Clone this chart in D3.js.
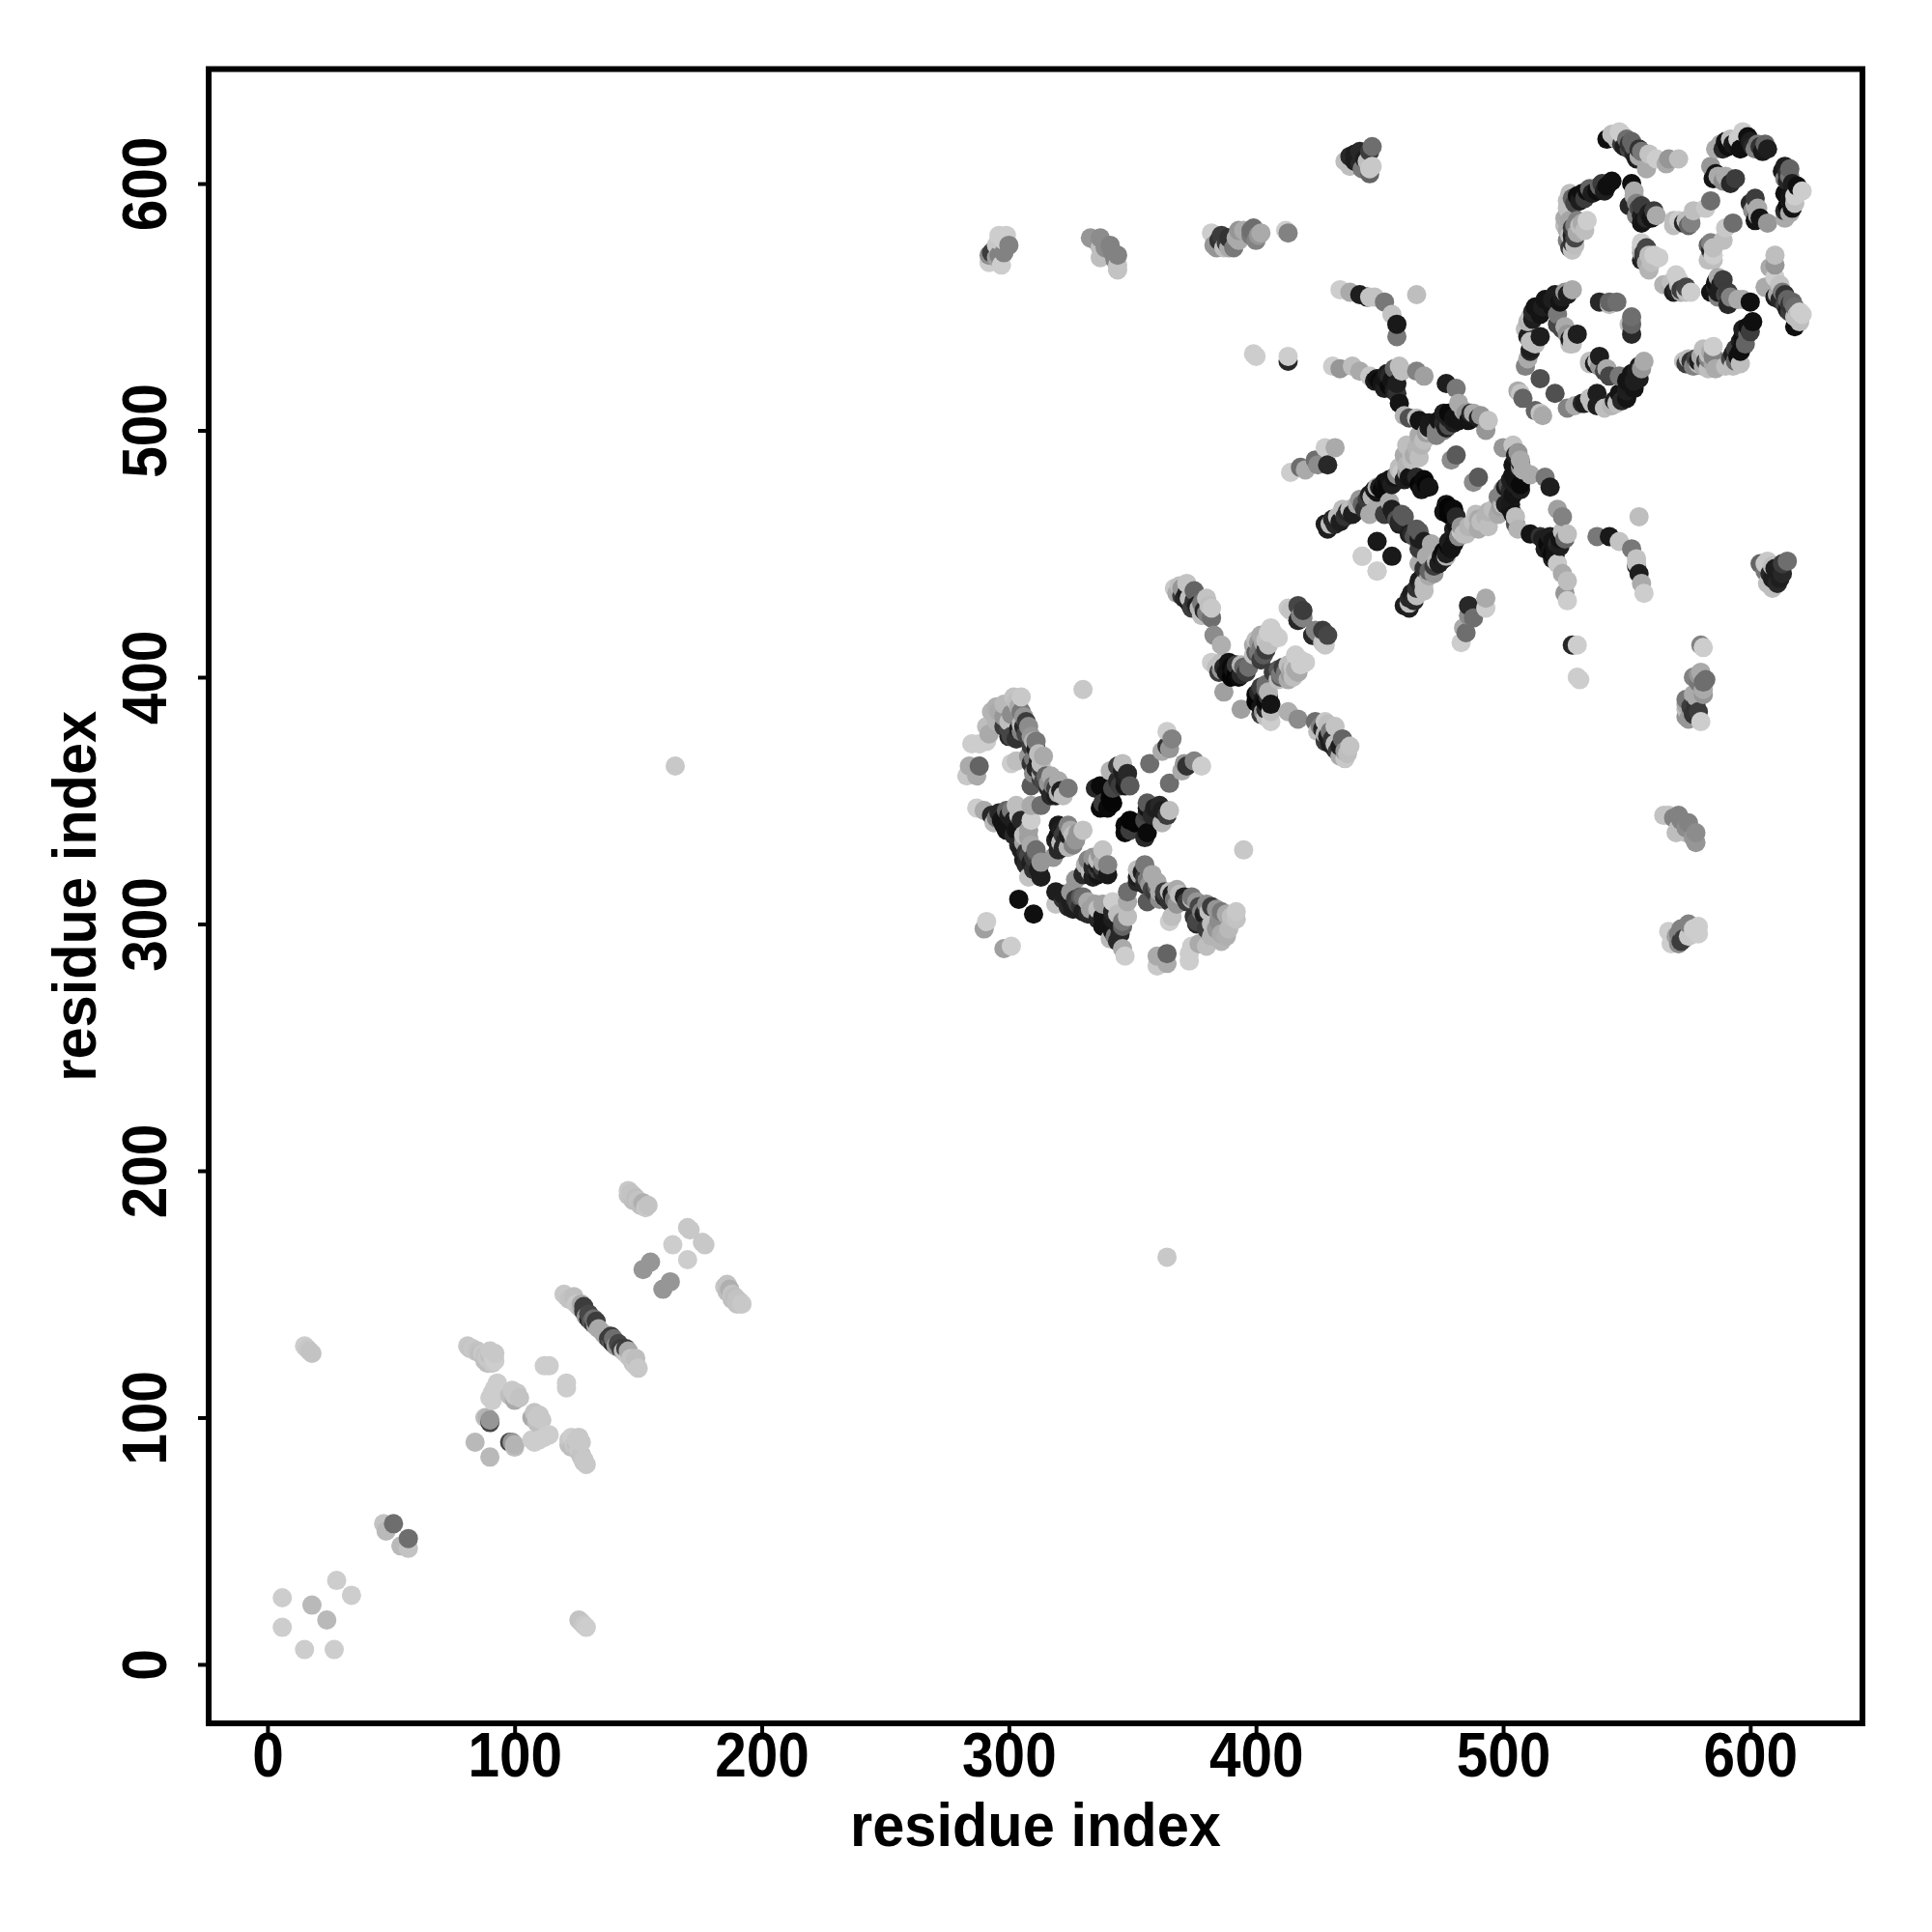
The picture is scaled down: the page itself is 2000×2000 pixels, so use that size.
<!DOCTYPE html>
<html><head><meta charset="utf-8">
<script src="https://cdn.jsdelivr.net/npm/d3@7"></script>
<style>html,body{margin:0;background:#fff}svg{display:block}</style></head>
<body><svg id="c" width="2000" height="2000"></svg>
<script>
// residue i, residue j (i<j), grey level. The map is symmetric, so each contact is drawn as (i,j) and (j,i).
const tickValues = [0,100,200,300,400,500,600];
const axisTitle = "residue index";
const helix1 = [[6,27,205],[6,15,205],[18,24,185],[28,34,205],[47,57,195],[48,54,185],[51,57,110],[15,129,205],[16,128,200],[17,127,195],[18,126,195],[165,364,200]];
const strand80 = [[81,129,200],[83,128,200],[85,127,195],[87,126,200],[89,124,200],[91,122,200],[90,127,200],[91,125,200],[93,114,205],[91,110,205],[91,107,205],[98,109,190],[100,107,170],[101,110,200],[88,100,190],[89,100,180],[90,99,150],[90,98,70],[84,90,185],[112,121,205],[114,121,205],[82,128,195],[84,127,200],[86,126,190],[88,125,195],[90,125,190],[88,123,190],[89,122,190],[92,126,200],[92,123,205],[92,112,205],[90,108,205],[100,108,170],[100,109,200],[99,111,200],[102,108,195]];
const strand120 = [[120,150,200],[121,149,200],[123,148,195],[124,147,195],[125,146,200],[127,144,185],[128,143,60],[129,141,150],[131,139,90],[132,138,60],[133,137,170],[122,148,195],[124,149,190],[126,145,195],[127,146,170],[128,145,60],[130,142,70],[130,140,40],[132,140,110],[133,139,60],[134,136,170],[146,192,200],[147,191,195],[148,190,195],[149,189,190],[150,188,195],[152,187,175],[154,186,195],[146,190,195],[148,188,190],[151,186,190],[153,185,200],[170,177,200],[171,176,200],[164,170,205],[152,160,150],[155,163,150]];
const block290 = [[305,392,200],[302,392,195],[295,388,175],[298,389,185],[301,385,140],[305,381,190],[305,378,130],[300,379,70],[291,380,190],[292,377,170],[285,373,205],[288,373,205],[291,374,205],[301,376,70],[303,375,50],[310,374,180],[314,368,170],[308,368,150],[303,366,190],[301,365,205],[313,363,60],[309,365,50],[310,361,140],[284,364,170],[288,364,100],[287,360,170],[283,360,200],[309,356,90],[313,359,60],[316,357,150],[319,355,60],[324,355,120],[317,352,40],[320,353,180],[287,347,205],[290,346,170],[296,345,40],[299,346,100],[303,348,190],[302,342,30],[299,338,20],[294,341,185],[309,342,205],[308,338,160],[308,335,160],[313,348,110],[309,348,170],[307,329,50],[308,328,70],[311,329,90],[307,324,40],[313,325,150],[308,319,195],[313,319,30],[318,327,150],[304,310,15],[291,301,205],[290,298,160],[320,340,25],[324,340,130],[319,334,30],[324,336,30],[330,338,195],[327,334,150],[324,331,180],[320,330,40],[330,395,200]];
const block290b = [[303,390,190],[304,388,170],[305,386,120],[306,384,150],[307,382,60],[308,380,140],[306,380,40],[304,379,30],[307,377,70],[309,376,150],[311,374,120],[309,372,60],[311,371,30],[312,369,190],[310,367,120],[312,366,30],[313,365,190],[311,363,40],[313,361,170],[315,360,100],[314,358,70],[316,355,40],[318,356,120],[321,354,30],[319,352,30],[322,352,190],[320,358,170],[317,360,170],[293,386,180],[296,386,170],[298,384,150],[295,382,180],[298,380,60],[300,382,190],[300,376,40],[293,344,40],[295,343,120],[297,342,20],[298,340,20],[300,344,30],[301,346,120],[304,344,190],[305,342,40],[303,338,20],[302,336,40],[306,336,190],[306,333,160],[304,332,40],[305,330,30],[306,326,30],[309,325,30],[310,322,50],[311,330,110],[309,332,170],[312,322,30],[310,327,60],[321,338,30],[322,336,60],[320,336,20],[323,334,40],[325,338,170],[326,336,190],[321,333,190],[322,331,40],[326,332,130],[328,337,150],[323,338,60]];
const block340 = [[346,365,190],[341,362,180],[337,356,10],[342,355,70],[348,361,40],[349,356,90],[338,349,60],[342,349,5],[340,347,10],[347,359,30],[357,365,110],[364,378,205],[366,375,130],[364,372,50],[362,370,170],[365,371,150],[335,355,40],[341,351,5],[344,358,40],[345,356,60],[346,362,30],[344,364,60],[337,347,10],[347,356,20]];
const block370 = [[369,437,190],[372,438,195],[370,433,60],[375,435,100],[373,430,30],[376,429,30],[380,432,195],[382,428,200],[382,424,110],[378,425,190],[383,417,140],[386,413,175],[382,406,205],[386,406,190],[385,402,60],[389,406,20],[393,400,10],[391,403,20],[395,404,100],[397,404,110],[394,405,180],[387,394,160],[406,420,205],[409,416,205],[402,417,170],[399,413,170],[402,412,120],[400,410,90],[402,407,60],[399,409,190],[405,413,190],[413,428,200],[417,429,70],[418,425,130],[417,423,20],[424,419,130],[427,419,60],[423,417,40],[427,414,195],[367,436,200],[368,434,170],[370,436,150],[371,432,40],[372,434,30],[373,432,190],[374,428,60],[375,431,50],[377,428,180],[378,430,120],[379,427,40],[380,426,130],[381,429,190],[388,402,20],[390,404,10],[390,400,5],[392,401,5],[392,405,60],[394,401,40],[396,402,60],[387,404,40],[384,404,190],[386,403,150],[400,415,190],[401,414,150],[403,414,170],[401,410,120],[403,409,90],[404,415,195],[405,418,205],[407,418,205],[403,416,170],[404,411,60]];
const farTop = [[296,579,205],[299,579,205],[295,575,200],[300,575,130],[292,571,140],[296,571,130],[292,568,205],[297,567,205],[294,573,60],[293,572,60],[295,570,160],[298,577,205],[296,577,200],[298,572,130],[333,578,150],[337,578,140],[337,574,190],[341,575,130],[337,570,190],[344,571,130],[344,567,195],[344,565,195],[335,577,150],[339,574,140],[342,572,130],[339,571,190],[343,569,130],[382,580,205],[383,575,150],[386,579,60],[389,578,50],[387,574,190],[391,574,120],[393,581,150],[393,577,170],[399,582,110],[402,580,170],[400,577,130],[385,577,50],[388,576,60],[384,574,150],[389,574,170],[392,578,170],[395,581,170],[398,579,120],[398,581,110],[401,579,150],[412,581,205],[413,580,130],[447,615,110],[442,613,40],[438,611,40],[438,607,190],[446,606,200],[442,608,40],[446,604,100],[436,609,190],[440,612,30],[440,609,30],[443,606,120],[444,610,30],[445,609,190],[447,607,200],[446,613,60],[399,531,205],[400,530,205],[413,530,205],[413,528,40]];
const block430 = [[434,557,205],[438,556,170],[442,555,30],[445,554,30],[446,554,195],[448,554,195],[452,552,120],[455,547,195],[457,543,25],[457,538,120],[465,555,190],[431,526,205],[434,525,150],[439,526,190],[442,524,170],[446,522,200],[448,520,30],[451,519,20],[454,522,40],[458,526,190],[456,523,20],[465,524,130],[468,522,160],[457,515,50],[458,511,20],[477,519,30],[481,517,120],[482,511,170],[478,505,30],[476,503,40],[487,507,40],[485,507,150],[490,505,30],[494,504,195],[493,500,150],[466,504,20],[470,503,25],[460,506,180],[462,505,80],[465,505,190],[466,498,170],[473,500,130],[469,499,160],[461,494,190],[465,493,180],[460,490,170],[458,485,190],[481,490,90],[479,488,140]];
const block430b = [[449,521,20],[450,520,10],[452,521,20],[452,517,30],[453,523,30],[454,518,10],[455,520,20],[456,525,100],[456,516,30],[457,519,30],[459,524,190],[476,507,30],[474,504,20],[478,507,10],[480,505,20],[477,501,30],[480,503,30],[482,504,20],[484,508,170],[486,504,20],[488,507,170],[491,506,150],[473,498,130],[476,500,130],[478,502,80],[470,500,190],[468,496,190],[467,494,180],[464,490,170],[463,488,190],[461,486,180],[459,483,200],[466,489,190],[463,491,190],[470,501,30],[468,503,20]];
const block415 = [[414,483,205],[418,485,110],[424,488,110],[428,493,205],[432,493,170],[429,486,40],[425,486,140],[420,484,170],[428,462,30],[431,464,40],[435,468,190],[439,466,30],[442,472,150],[444,468,50],[446,466,170],[448,476,30],[452,479,20],[456,481,20],[461,483,150],[465,481,40],[469,478,5],[449,477,180],[456,466,30],[459,466,90],[454,471,170],[449,455,25],[443,449,205],[449,443,205],[460,465,90],[463,458,40],[429,460,30],[430,462,190],[432,462,40],[433,465,190],[434,463,30],[436,465,50],[437,467,40],[438,468,190],[440,467,30],[441,470,170],[443,470,100],[445,472,60],[446,474,30],[447,473,180],[449,475,20],[450,477,30],[451,476,10],[453,478,10],[454,480,20],[455,478,30],[457,482,140],[458,484,190],[460,480,30],[462,481,20],[466,478,5],[468,480,10],[470,477,20],[467,476,20],[449,469,170],[452,466,60],[455,468,30],[457,464,80],[458,462,30]];
const ring510 = [[506,516,170],[507,515,195],[508,513,100],[515,521,80],[528,557,170],[524,554,30],[520,550,20],[515,547,20],[512,545,30],[511,536,190],[509,541,190],[511,533,30],[510,529,170],[509,526,130],[516,550,30],[522,543,70],[526,539,150],[530,539,30],[527,535,190],[539,552,40],[543,552,100],[543,551,190],[546,552,110],[535,528,190],[513,550,20],[517,553,20],[520,553,30],[521,555,30],[523,552,20],[525,556,150],[526,555,30],[512,548,40],[511,546,190],[510,544,180],[510,538,30],[524,541,70],[522,547,120],[525,542,170],[528,538,190],[527,537,30],[515,538,30],[513,535,190],[511,532,40]];
const ring540 = [[542,618,15],[547,621,205],[546,618,190],[550,618,110],[552,617,100],[555,614,50],[554,610,30],[559,612,195],[558,606,170],[562,610,205],[567,610,150],[571,610,190],[542,599,15],[539,599,100],[534,597,15],[531,593,30],[526,593,190],[526,590,190],[534,585,205],[530,585,130],[527,585,165],[533,581,190],[528,579,30],[528,573,195],[528,576,50],[525,586,170],[528,582,60],[552,600,15],[553,595,170],[556,591,60],[562,587,170],[558,586,40],[556,584,20],[551,591,40],[569,585,190],[573,584,40],[576,584,130],[556,576,205],[558,574,70],[556,569,30],[563,570,205],[559,565,180],[584,593,110],[582,590,200],[589,614,40],[586,614,170],[593,616,25],[597,621,205],[599,619,15],[603,616,120],[607,614,30],[586,604,20],[590,603,170],[594,602,60]];
const ring540b = [[527,596,190],[528,594,100],[529,592,70],[530,595,15],[532,596,15],[533,594,60],[535,598,100],[536,596,30],[538,597,15],[540,600,60],[541,597,30],[544,601,15],[525,583,190],[526,581,170],[527,579,190],[529,583,130],[529,578,70],[530,580,170],[531,583,190],[532,584,170],[527,574,60],[529,575,190],[526,577,130],[547,619,190],[548,616,60],[549,615,30],[551,614,70],[551,616,50],[553,612,40],[553,615,100],[555,611,170],[556,613,120],[548,620,205],[544,620,190],[553,597,170],[554,592,130],[555,590,70],[556,587,30],[557,585,20],[559,588,30],[560,586,20],[554,587,130],[561,589,60],[556,574,190],[557,572,60],[557,570,40],[559,571,190],[560,568,190],[561,571,205],[556,572,170],[558,568,170],[569,583,190],[571,585,205],[574,585,190],[575,583,100],[588,616,170],[590,617,20],[591,615,15],[592,618,190],[595,618,205],[595,616,20],[596,614,15],[600,617,30],[601,615,40],[602,614,130],[604,615,50],[605,613,25],[606,616,100],[584,607,150],[585,602,20],[587,603,170],[589,601,140],[591,602,170],[592,600,40],[577,589,190],[566,608,170]];
const contacts = [helix1,strand80,strand120,block290,block290b,block340,block370,farTop,block430,block430b,block415,ring510,ring540,ring540b].flat();

const L=216, R=1928, T=71.5, B=1784;
const x=d3.scaleLinear().domain([-23.8,645.4]).range([L,R]);
const y=d3.scaleLinear().domain([-23.9,646.4]).range([B,T]);
const svg=d3.select("#c");
const points=contacts.flatMap(([a,b,g])=>[{a,b,g},{a:b,b:a,g}]).sort((p,q)=>d3.ascending(p.a,q.a)||d3.ascending(p.b,q.b));
svg.append("g").selectAll("circle").data(points).join("circle")
  .attr("cx",d=>x(d.a)).attr("cy",d=>y(d.b)).attr("r",10)
  .attr("fill",d=>d3.rgb(d.g,d.g,d.g).formatHex());
svg.append("rect").attr("x",L).attr("y",T).attr("width",R-L).attr("height",B-T)
  .attr("fill","none").attr("stroke","#000").attr("stroke-width",6);
const font='"Liberation Sans",Arial,sans-serif';
const ax=svg.append("g").attr("transform",`translate(0,${B})`)
  .call(d3.axisBottom(x).tickValues(tickValues).tickSize(11).tickSizeOuter(0).tickPadding(-2));
ax.select(".domain").remove();
ax.selectAll("line").attr("stroke","#000").attr("stroke-width",4);
ax.selectAll("text").attr("font-family",font).attr("font-weight","bold").attr("font-size",65).attr("fill","#000")
  .attr("transform","scale(0.9,1)");
const ay=svg.append("g").attr("transform",`translate(${L},0)`)
  .call(d3.axisLeft(y).tickValues(tickValues).tickSize(11).tickSizeOuter(0));
ay.select(".domain").remove();
ay.selectAll("line").attr("stroke","#000").attr("stroke-width",4);
ay.selectAll("text").attr("font-family",font).attr("font-weight","bold").attr("font-size",65).attr("fill","#000")
  .attr("x",null).attr("dy",null).attr("text-anchor","middle")
  .attr("transform","translate(-44,0) rotate(-90) scale(0.9,1)");
svg.append("text").attr("x",(L+R)/2).attr("y",1911).attr("text-anchor","middle")
  .attr("font-family",font).attr("font-weight","bold").attr("font-size",63).attr("textLength",384).attr("lengthAdjust","spacingAndGlyphs").text(axisTitle);
svg.append("text").attr("transform",`translate(99,${(T+B)/2}) rotate(-90)`).attr("text-anchor","middle")
  .attr("font-family",font).attr("font-weight","bold").attr("font-size",63).attr("textLength",384).attr("lengthAdjust","spacingAndGlyphs").text(axisTitle);
</script></body></html>
